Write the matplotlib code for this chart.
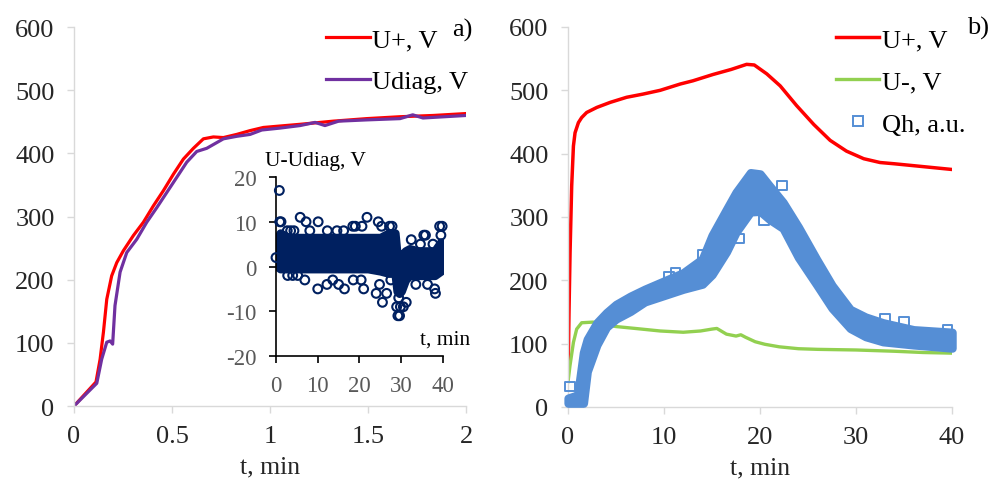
import matplotlib
matplotlib.use("Agg")
import matplotlib.pyplot as plt
from matplotlib.lines import Line2D

plt.rcParams["font.family"] = ["Liberation Serif", "DejaVu Serif"]
plt.rcParams["axes.unicode_minus"] = False

# ─── panel a): U+ and Udiag over the first 2 min ─────────────────────────────────
a_t_up = [0, 0.112, 0.133, 0.15, 0.167, 0.192, 0.218, 0.252, 0.303, 0.354, 0.405,
          0.456, 0.507, 0.558, 0.609, 0.66, 0.711, 0.762, 0.83, 0.898, 0.966,
          1.153, 1.323, 1.493, 1.663, 1.833, 2.0]
a_u_up = [0, 38, 74, 117, 169, 206, 227, 246, 270, 291, 317,
          341, 367, 391, 408, 423, 426, 425, 430, 436, 441,
          446, 451, 455, 458, 460, 463]
a_t_diag = [0, 0.116, 0.141, 0.167, 0.184, 0.197, 0.209, 0.235, 0.269, 0.32, 0.371,
            0.422, 0.473, 0.524, 0.575, 0.626, 0.677, 0.728, 0.762, 0.83, 0.898,
            0.958, 1.05, 1.153, 1.23, 1.28, 1.35, 1.493, 1.663, 1.728, 1.78, 2.0]
a_u_diag = [0, 36, 74, 101, 103, 98, 159, 212, 243, 264, 291,
            314, 338, 362, 386, 403, 408, 417, 423, 427, 430,
            437, 440, 444, 449, 444, 451, 453, 455, 461, 456, 460]

# inset: U-Udiag, dense band (lower/upper edge of the cloud) + scattered points
in_t = [0.3, 1, 3, 6, 10, 14, 18, 22, 25, 27, 28.5, 29, 29.5, 30, 31, 32, 34, 36, 38, 39.5, 40]
in_lo = [0, -0.5, -0.5, -0.5, -0.5, -0.5, -0.5, -0.5, -1, -1.5, -1.5, -5.5, -6, -5.5,
         -3, -2, -2, -2, -2, -1, 0]
in_hi = [6.5, 7.5, 6.5, 6.5, 6.5, 6.5, 6.5, 6.5, 6.5, 7.5, 7.5, 2.5, 2.5, 2.5, 3.5, 4,
         3.5, 3.5, 3.5, 5.5, 4.5]
in_pts_t = [0.0, 0.8, 0.9, 1.2, 5.8, 7.2, 10.1, 21.8, 24.5, 25.3, 19.0, 18.4, 27.2,
            27.8, 3.5, 4.3, 2.7, 8.1, 12.3, 14.6, 16.2, 20.6, 2.8, 4.0, 5.2, 6.9,
            10.0, 12.2, 15.0, 16.4, 13.6, 18.5, 20.4, 21.0, 24.0, 24.8, 25.5, 26.5,
            27.5, 29.2, 29.6, 28.9, 29.8, 30.5, 31.2, 29.4, 32.4, 34.6, 35.4, 35.8,
            38.0, 38.2, 36.3, 39.2, 39.8, 39.5, 33.5, 37.6]
in_pts_v = [2, 17, 10, 10, 11, 10, 10, 11, 10, 9, 9, 9, 9,
            9, 8, 8, 8, 8, 8, 8, 8, 9, -2, -2, -2, -3,
            -5, -4, -4, -5, -3, -3, -3, -5, -6, -4, -8, -6,
            -3, -11, -11, -9, -9, -9, -8, -7, 6, 5, 7, 7,
            -5, -6, -4, 9, 9, 7, -4, 5]

# ─── panel b): U+, U- and Qh over 40 min ─────────────────────────────────────────
b_t_up = [0, 0.1, 0.21, 0.38, 0.56, 0.73, 1.08, 1.42, 1.94, 3, 4.4, 6.1, 7.8, 9.6,
          11.7, 13, 15.1, 17, 18.6, 19.4, 20.7, 22.1, 23.8, 25.6, 27.3, 29, 30.8,
          32.5, 34, 36, 38, 40]
b_u_up = [45, 150, 244, 349, 412, 433, 449, 457, 465, 473, 481, 489, 494, 500,
          510, 515, 525, 533, 541, 540, 526, 507, 476, 446, 421, 404, 392,
          386, 384, 381, 378, 375]
b_t_dn = [0, 0.2, 0.56, 0.9, 1.42, 2.6, 5, 7, 9.6, 12, 13.8, 15, 15.5, 16.5, 17.5,
          18, 18.5, 19.5, 20.5, 22, 24, 26, 30, 34, 37, 40]
b_u_dn = [40, 65, 102, 123, 133, 134, 127, 124, 120, 118, 120, 123, 124, 115, 112,
          114, 110, 103, 99, 95, 92, 91, 90, 88, 86, 85]
qh_t = [0, 1, 1.6, 2, 3, 4, 5, 6.5, 8, 10, 12, 14, 15, 16.5, 17.5, 19, 20, 21, 22.4,
        24, 25.9, 27.5, 29.4, 31, 32.8, 36, 40]
qh_lo = [6, 6, 6, 56, 98, 126, 139, 151, 166, 176, 186, 194, 209, 245, 276, 308, 309,
         296, 282, 236, 193, 156, 124, 111, 103, 98, 93]
qh_hi = [14, 19, 86, 107, 133, 149, 162, 175, 186, 199, 212, 234, 271, 312, 339, 370,
         368, 349, 323, 284, 233, 192, 154, 142, 133, 122, 118]
qh_pts_t = [0.2, 17.8, 19.6, 20.4, 22.3, 10.5, 11.2, 14.0, 16.5, 33.0, 35.0, 39.5, 23.5]
qh_pts_v = [32, 266, 310, 295, 350, 205, 212, 240, 290, 140, 135, 122, 285]

RED, PURPLE, GREEN, BLUE, NAVY = "#ff0000", "#7030a0", "#92d050", "#558ed5", "#002060"
GRID = "#d9d9d9"
TICK_FS, LEG_FS = 19, 19


def style_main(ax):
    for s in ("top", "right"):
        ax.spines[s].set_visible(False)
    for s in ("left", "bottom"):
        ax.spines[s].set_color(GRID)
        ax.spines[s].set_linewidth(1.0)
    ax.tick_params(colors=GRID, labelcolor="#262626", labelsize=TICK_FS,
                   length=5, width=1.0, pad=9)
    ax.set_xlabel("t, min", fontsize=18.5, color="#262626", labelpad=6)


fig = plt.figure(figsize=(9.91, 4.85), dpi=100)

# panel a
ax_a = fig.add_axes([0.0747, 0.1608, 0.3956, 0.7814])
ax_a.plot(a_t_up, a_u_up, color=RED, lw=2.3, label="U+, V")
ax_a.plot(a_t_diag, a_u_diag, color=PURPLE, lw=2.3, label="Udiag, V")
ax_a.set_xlim(0, 2)
ax_a.set_ylim(0, 600)
ax_a.set_xticks([0, 0.5, 1, 1.5, 2])
ax_a.set_xticklabels(["0", "0.5", "1", "1.5", "2"])
ax_a.set_yticks(range(0, 601, 100))
style_main(ax_a)
ax_a.legend(loc="upper right", bbox_to_anchor=(1.033, 1.026), frameon=False,
            fontsize=LEG_FS, handlelength=1.65, handletextpad=0.1, labelspacing=0.71,
            borderaxespad=0)
fig.text(452 / 991, 1 - 30 / 485, "a)", fontsize=LEG_FS, va="center", ha="left")

# inset
ax_in = fig.add_axes([0.2785, 0.2639, 0.1685, 0.369])
ax_in.fill_between(in_t, in_lo, in_hi, color=NAVY, lw=6, edgecolor=NAVY,
                   joinstyle="round")
ax_in.scatter(in_pts_t, in_pts_v, s=40, facecolors="none", edgecolors=NAVY,
              linewidths=1.5, clip_on=False, zorder=3)
ax_in.set_xlim(0, 40)
ax_in.set_ylim(-20, 20)
ax_in.set_xticks(range(0, 41, 10))
ax_in.set_yticks(range(-20, 21, 10))
for s in ("top", "right"):
    ax_in.spines[s].set_visible(False)
for s in ("left", "bottom"):
    ax_in.spines[s].set_color("black")
    ax_in.spines[s].set_linewidth(1.2)
ax_in.tick_params(colors="black", labelcolor="#595959", labelsize=16.5, length=5,
                  width=1.2, pad=9)
ax_in.patch.set_alpha(0)
fig.text(265 / 991, 1 - 162 / 485, "U-Udiag, V", fontsize=15.5, va="center", ha="left")
fig.text(470 / 991, 1 - 340 / 485, "t, min", fontsize=15.5, va="center", ha="right")

# panel b
ax_b = fig.add_axes([0.5732, 0.1588, 0.3875, 0.7835])
ax_b.plot(b_t_up, b_u_up, color=RED, lw=2.5)
ax_b.plot(b_t_dn, b_u_dn, color=GREEN, lw=2.4)
ax_b.fill_between(qh_t, qh_lo, qh_hi, color=BLUE, lw=6, edgecolor=BLUE,
                  joinstyle="round", clip_on=False, zorder=3)
ax_b.scatter(qh_pts_t, qh_pts_v, marker="s", s=45, facecolors="none",
             edgecolors=BLUE, linewidths=1.4, clip_on=False, zorder=3)
ax_b.set_xlim(0, 40)
ax_b.set_ylim(0, 600)
ax_b.set_xticks(range(0, 41, 10))
ax_b.set_yticks(range(0, 601, 100))
style_main(ax_b)
handles = [Line2D([], [], color=RED, lw=2.5),
           Line2D([], [], color=GREEN, lw=2.4),
           Line2D([], [], color=BLUE, marker="s", ls="none", ms=7,
                  markerfacecolor="none", markeredgewidth=1.4)]
ax_b.legend(handles, ["U+, V", "U-, V", "Qh, a.u."], loc="upper right",
            bbox_to_anchor=(1.0625, 1.026), frameon=False, fontsize=LEG_FS,
            handlelength=1.65, handletextpad=0.1, labelspacing=0.71, borderaxespad=0)
fig.text(967 / 991, 1 - 28 / 485, "b)", fontsize=LEG_FS, va="center", ha="left")

fig.savefig("out.png", dpi=100)
